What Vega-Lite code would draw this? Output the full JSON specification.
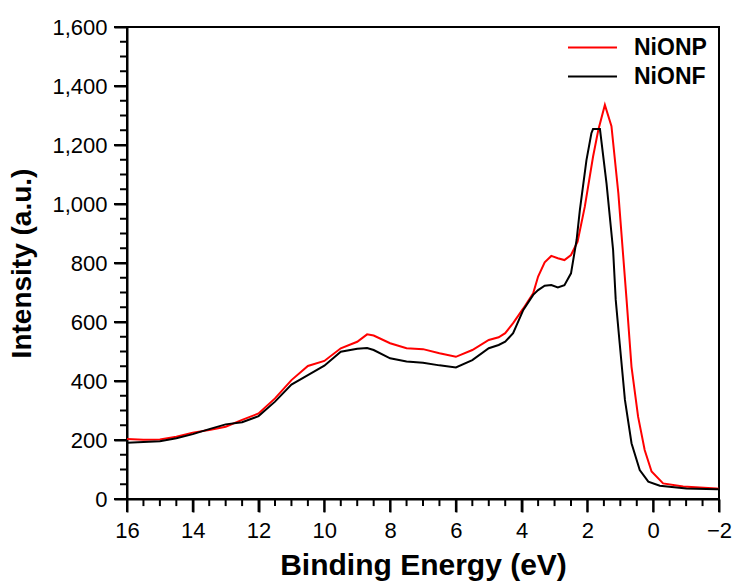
{
  "$schema": "https://vega.github.io/schema/vega-lite/v6.json",
  "width": 592,
  "height": 472,
  "autosize": {"type": "none"},
  "padding": {"left": 127, "top": 27, "right": 15, "bottom": 82},
  "background": "white",
  "config": {
    "font": "Liberation Sans",
    "view": {"stroke": "#000", "strokeWidth": 2},
    "axis": {"grid": false, "domainColor": "#000", "domainWidth": 2, "tickColor": "#000", "tickWidth": 2, "labelColor": "#000", "titleColor": "#000", "labelFont": "Liberation Sans", "titleFont": "Liberation Sans", "labelFontSize": 22, "titleFontSize": 28, "titleFontWeight": "bold", "labelOverlap": false, "labelFlush": false}
  },
  "datasets": {
    "xmajor": [{"e": -2}, {"e": 0}, {"e": 2}, {"e": 4}, {"e": 6}, {"e": 8}, {"e": 10}, {"e": 12}, {"e": 14}, {"e": 16}],
    "xminor": [{"e": -1.5}, {"e": -1}, {"e": -0.5}, {"e": 0.5}, {"e": 1}, {"e": 1.5}, {"e": 2.5}, {"e": 3}, {"e": 3.5}, {"e": 4.5}, {"e": 5}, {"e": 5.5}, {"e": 6.5}, {"e": 7}, {"e": 7.5}, {"e": 8.5}, {"e": 9}, {"e": 9.5}, {"e": 10.5}, {"e": 11}, {"e": 11.5}, {"e": 12.5}, {"e": 13}, {"e": 13.5}, {"e": 14.5}, {"e": 15}, {"e": 15.5}],
    "ymajor": [{"i": 0}, {"i": 200}, {"i": 400}, {"i": 600}, {"i": 800}, {"i": 1000}, {"i": 1200}, {"i": 1400}, {"i": 1600}],
    "yminor": [{"i": 50}, {"i": 100}, {"i": 150}, {"i": 250}, {"i": 300}, {"i": 350}, {"i": 450}, {"i": 500}, {"i": 550}, {"i": 650}, {"i": 700}, {"i": 750}, {"i": 850}, {"i": 900}, {"i": 950}, {"i": 1050}, {"i": 1100}, {"i": 1150}, {"i": 1250}, {"i": 1300}, {"i": 1350}, {"i": 1450}, {"i": 1500}, {"i": 1550}],
    "spectra": [
    {"series": "NiONP", "energy": 16, "intensity": 203},
    {"series": "NiONP", "energy": 15.5, "intensity": 201},
    {"series": "NiONP", "energy": 15, "intensity": 202},
    {"series": "NiONP", "energy": 14.5, "intensity": 211},
    {"series": "NiONP", "energy": 14, "intensity": 225},
    {"series": "NiONP", "energy": 13.5, "intensity": 234},
    {"series": "NiONP", "energy": 13, "intensity": 245},
    {"series": "NiONP", "energy": 12.5, "intensity": 268},
    {"series": "NiONP", "energy": 12, "intensity": 290},
    {"series": "NiONP", "energy": 11.5, "intensity": 341},
    {"series": "NiONP", "energy": 11, "intensity": 403},
    {"series": "NiONP", "energy": 10.5, "intensity": 451},
    {"series": "NiONP", "energy": 10, "intensity": 468},
    {"series": "NiONP", "energy": 9.5, "intensity": 511},
    {"series": "NiONP", "energy": 9, "intensity": 533},
    {"series": "NiONP", "energy": 8.7, "intensity": 558},
    {"series": "NiONP", "energy": 8.5, "intensity": 554},
    {"series": "NiONP", "energy": 8, "intensity": 528},
    {"series": "NiONP", "energy": 7.5, "intensity": 511},
    {"series": "NiONP", "energy": 7, "intensity": 508},
    {"series": "NiONP", "energy": 6.5, "intensity": 494},
    {"series": "NiONP", "energy": 6, "intensity": 482},
    {"series": "NiONP", "energy": 5.5, "intensity": 505},
    {"series": "NiONP", "energy": 5, "intensity": 539},
    {"series": "NiONP", "energy": 4.7, "intensity": 548},
    {"series": "NiONP", "energy": 4.5, "intensity": 562},
    {"series": "NiONP", "energy": 4.26, "intensity": 596},
    {"series": "NiONP", "energy": 3.95, "intensity": 646},
    {"series": "NiONP", "energy": 3.65, "intensity": 697},
    {"series": "NiONP", "energy": 3.5, "intensity": 754},
    {"series": "NiONP", "energy": 3.3, "intensity": 802},
    {"series": "NiONP", "energy": 3.1, "intensity": 824},
    {"series": "NiONP", "energy": 2.9, "intensity": 816},
    {"series": "NiONP", "energy": 2.7, "intensity": 810},
    {"series": "NiONP", "energy": 2.5, "intensity": 827},
    {"series": "NiONP", "energy": 2.3, "intensity": 872},
    {"series": "NiONP", "energy": 2.08, "intensity": 991},
    {"series": "NiONP", "energy": 1.83, "intensity": 1160},
    {"series": "NiONP", "energy": 1.67, "intensity": 1251},
    {"series": "NiONP", "energy": 1.47, "intensity": 1336},
    {"series": "NiONP", "energy": 1.27, "intensity": 1264},
    {"series": "NiONP", "energy": 1.06, "intensity": 1036},
    {"series": "NiONP", "energy": 0.81, "intensity": 675},
    {"series": "NiONP", "energy": 0.66, "intensity": 448},
    {"series": "NiONP", "energy": 0.46, "intensity": 279},
    {"series": "NiONP", "energy": 0.26, "intensity": 166},
    {"series": "NiONP", "energy": 0.05, "intensity": 93},
    {"series": "NiONP", "energy": -0.3, "intensity": 53},
    {"series": "NiONP", "energy": -0.91, "intensity": 42},
    {"series": "NiONP", "energy": -1.92, "intensity": 36},
    {"series": "NiONP", "energy": -2, "intensity": 35},
    {"series": "NiONF", "energy": 16, "intensity": 191},
    {"series": "NiONF", "energy": 15.5, "intensity": 193},
    {"series": "NiONF", "energy": 15, "intensity": 196},
    {"series": "NiONF", "energy": 14.5, "intensity": 206},
    {"series": "NiONF", "energy": 14, "intensity": 220},
    {"series": "NiONF", "energy": 13.5, "intensity": 237},
    {"series": "NiONF", "energy": 13, "intensity": 253},
    {"series": "NiONF", "energy": 12.5, "intensity": 260},
    {"series": "NiONF", "energy": 12, "intensity": 281},
    {"series": "NiONF", "energy": 11.5, "intensity": 330},
    {"series": "NiONF", "energy": 11, "intensity": 388},
    {"series": "NiONF", "energy": 10.5, "intensity": 420},
    {"series": "NiONF", "energy": 10, "intensity": 452},
    {"series": "NiONF", "energy": 9.5, "intensity": 499},
    {"series": "NiONF", "energy": 9, "intensity": 509},
    {"series": "NiONF", "energy": 8.7, "intensity": 512},
    {"series": "NiONF", "energy": 8.5, "intensity": 505},
    {"series": "NiONF", "energy": 8, "intensity": 477},
    {"series": "NiONF", "energy": 7.5, "intensity": 466},
    {"series": "NiONF", "energy": 7, "intensity": 462},
    {"series": "NiONF", "energy": 6.5, "intensity": 453},
    {"series": "NiONF", "energy": 6, "intensity": 446},
    {"series": "NiONF", "energy": 5.5, "intensity": 471},
    {"series": "NiONF", "energy": 5, "intensity": 511},
    {"series": "NiONF", "energy": 4.7, "intensity": 522},
    {"series": "NiONF", "energy": 4.5, "intensity": 533},
    {"series": "NiONF", "energy": 4.26, "intensity": 562},
    {"series": "NiONF", "energy": 3.95, "intensity": 641},
    {"series": "NiONF", "energy": 3.65, "intensity": 692},
    {"series": "NiONF", "energy": 3.5, "intensity": 708},
    {"series": "NiONF", "energy": 3.3, "intensity": 723},
    {"series": "NiONF", "energy": 3.1, "intensity": 725},
    {"series": "NiONF", "energy": 2.9, "intensity": 717},
    {"series": "NiONF", "energy": 2.7, "intensity": 725},
    {"series": "NiONF", "energy": 2.5, "intensity": 765},
    {"series": "NiONF", "energy": 2.33, "intensity": 878},
    {"series": "NiONF", "energy": 2.23, "intensity": 980},
    {"series": "NiONF", "energy": 2.03, "intensity": 1149},
    {"series": "NiONF", "energy": 1.88, "intensity": 1240},
    {"series": "NiONF", "energy": 1.83, "intensity": 1254},
    {"series": "NiONF", "energy": 1.62, "intensity": 1254},
    {"series": "NiONF", "energy": 1.42, "intensity": 1070},
    {"series": "NiONF", "energy": 1.22, "intensity": 844},
    {"series": "NiONF", "energy": 1.14, "intensity": 675},
    {"series": "NiONF", "energy": 1.02, "intensity": 528},
    {"series": "NiONF", "energy": 0.86, "intensity": 336},
    {"series": "NiONF", "energy": 0.66, "intensity": 189},
    {"series": "NiONF", "energy": 0.41, "intensity": 98},
    {"series": "NiONF", "energy": 0.15, "intensity": 59},
    {"series": "NiONF", "energy": -0.2, "intensity": 45},
    {"series": "NiONF", "energy": -1.01, "intensity": 36},
    {"series": "NiONF", "energy": -1.92, "intensity": 33},
    {"series": "NiONF", "energy": -2, "intensity": 33}
    ]
  },
  "layer": [
    {
      "data": {"name": "spectra"},
      "mark": {"type": "line", "strokeWidth": 2, "clip": true},
      "encoding": {
        "x": {
          "field": "energy", "type": "quantitative",
          "title": "Binding Energy (eV)",
          "scale": {"domain": [-2, 16], "reverse": true, "nice": false, "zero": false},
          "axis": {
            "orient": "bottom",
            "titleFontSize": 30,
            "values": [-2, 0, 2, 4, 6, 8, 10, 12, 14, 16],
            "format": "d",
            "ticks": true,
            "tickSize": 13,
            "labelPadding": 8,
            "titlePadding": 9
          }
        },
        "y": {
          "field": "intensity", "type": "quantitative",
          "title": "Intensity (a.u.)",
          "scale": {"domain": [0, 1600], "nice": false},
          "axis": {
            "orient": "left",
            "values": [0, 200, 400, 600, 800, 1000, 1200, 1400, 1600],
            "format": ",d",
            "ticks": true,
            "tickSize": 13,
            "labelPadding": 7,
            "titlePadding": 15
          }
        },
        "color": {
          "field": "series", "type": "nominal",
          "scale": {"domain": ["NiONP", "NiONF"], "range": ["#ff0000", "#000000"]},
          "legend": {
            "title": null,
            "orient": "none",
            "legendX": 453,
            "legendY": 8,
            "symbolType": "M-2.13,0H2.13",
            "symbolSize": 529,
            "symbolStrokeWidth": 2,
            "labelFont": "Liberation Sans",
            "labelFontSize": 23,
            "labelFontWeight": "bold",
            "labelColor": "#000",
            "labelOffset": 29,
            "rowPadding": 4,
            "padding": 0
          }
        }
      }
    },
    {
      "data": {"name": "xmajor"},
      "mark": {"type": "rule", "color": "#000", "strokeWidth": 2},
      "encoding": {
        "x": {"field": "e", "type": "quantitative", "title": "Binding Energy (eV)"},
        "y": {"datum": 0, "type": "quantitative", "title": "Intensity (a.u.)"},
        "y2": {"datum": -44}
      }
    },
    {
      "data": {"name": "xminor"},
      "mark": {"type": "rule", "color": "#000", "strokeWidth": 2},
      "encoding": {
        "x": {"field": "e", "type": "quantitative", "title": "Binding Energy (eV)"},
        "y": {"datum": 0, "type": "quantitative", "title": "Intensity (a.u.)"},
        "y2": {"datum": -24}
      }
    },
    {
      "data": {"name": "ymajor"},
      "mark": {"type": "rule", "color": "#000", "strokeWidth": 2},
      "encoding": {
        "y": {"field": "i", "type": "quantitative", "title": "Intensity (a.u.)"},
        "x": {"datum": 16, "type": "quantitative", "title": "Binding Energy (eV)"},
        "x2": {"datum": 16.395}
      }
    },
    {
      "data": {"name": "yminor"},
      "mark": {"type": "rule", "color": "#000", "strokeWidth": 2},
      "encoding": {
        "y": {"field": "i", "type": "quantitative", "title": "Intensity (a.u.)"},
        "x": {"datum": 16, "type": "quantitative", "title": "Binding Energy (eV)"},
        "x2": {"datum": 16.213}
      }
    }
  ]
}
